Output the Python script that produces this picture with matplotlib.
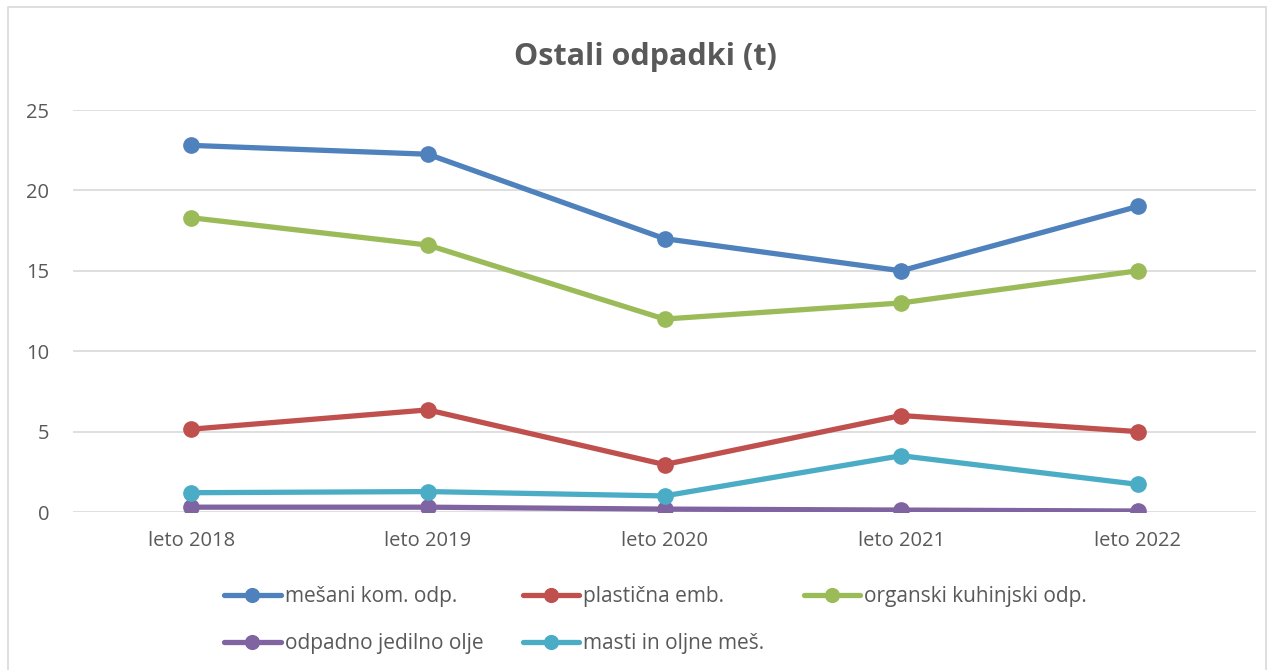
import matplotlib.pyplot as plt
from matplotlib.patches import Rectangle

years = ["leto 2018", "leto 2019", "leto 2020", "leto 2021", "leto 2022"]
mesani = [22.8, 22.25, 17.0, 15.0, 19.0]
plasticna = [5.15, 6.35, 2.95, 6.0, 5.0]
organski = [18.3, 16.6, 12.0, 13.0, 15.0]
olje = [0.3, 0.3, 0.18, 0.12, 0.06]
masti = [1.2, 1.27, 1.0, 3.5, 1.72]

series = [
    ("mešani kom. odp.", mesani, "#4F81BD"),
    ("plastična emb.", plasticna, "#C0504D"),
    ("organski kuhinjski odp.", organski, "#9BBB59"),
    ("odpadno jedilno olje", olje, "#8064A2"),
    ("masti in oljne meš.", masti, "#4BACC6"),
]

plt.rcParams['font.family'] = ['Open Sans', 'DejaVu Sans']
text_color = "#595959"

fig = plt.figure(figsize=(12.74, 6.70), dpi=100)
ax = fig.add_axes([73 / 1274, 1 - 512 / 670, (1256 - 73) / 1274, 402 / 670])

handles = []
for name, values, color in series:
    h, = ax.plot(range(len(years)), values, color=color, lw=3.8, marker="o",
                 markersize=11, label=name, solid_capstyle="round")
    handles.append(h)

ax.set_xlim(-0.5, len(years) - 0.5)
ax.set_ylim(0, 25)
ax.set_yticks([0, 5, 10, 15, 20, 25])
ax.set_xticks(range(len(years)))
ax.set_xticklabels(years)
ax.grid(axis="y", color="#d9d9d9", lw=1.2)
ax.set_axisbelow(True)
for s in ax.spines.values():
    s.set_visible(False)
ax.tick_params(length=0, labelsize=14.5, colors=text_color, pad=14)
ax.tick_params(axis="y", pad=17)

fig.text(0.507, 1 - 57 / 670, "Ostali odpadki (t)", ha="center", va="center",
         fontsize=22, fontweight="bold", color=text_color)

# row-wise order like excel
order = [0, 3, 1, 4, 2]
leg = fig.legend([handles[i] for i in order], [series[i][0] for i in order],
                 ncol=3, frameon=False, loc="center left",
                 bbox_to_anchor=(216 / 1274, 1 - 620 / 670), fontsize=15,
                 handlelength=2.7, handletextpad=0.2, columnspacing=1.9,
                 labelspacing=1.25, markerscale=0.9, borderaxespad=0)
for t in leg.get_texts():
    t.set_color(text_color)

fig.patches.append(Rectangle((8 / 1274, -0.01), 1258 / 1274, 1.0, transform=fig.transFigure,
                             fill=False, edgecolor="#d9d9d9", lw=1.2))

fig.savefig("out.png", dpi=100)
